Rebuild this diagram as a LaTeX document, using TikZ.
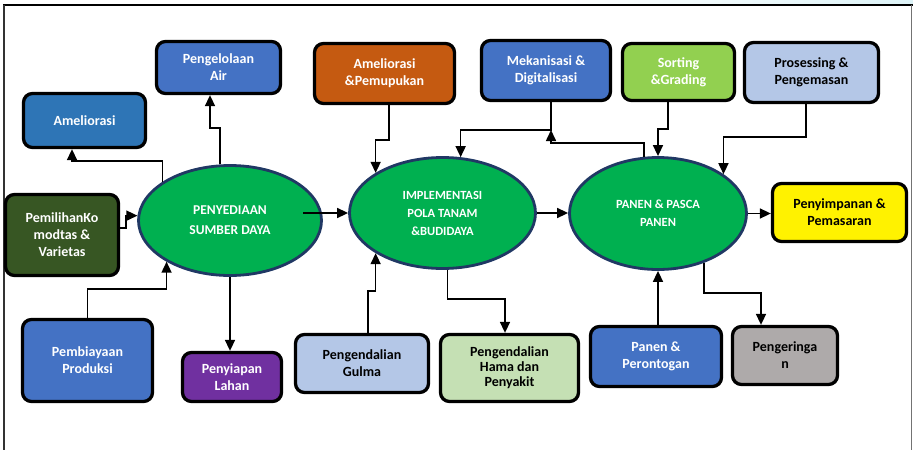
\documentclass[tikz,border=0pt]{standalone}
\usepackage{fontspec}
\setmainfont{Carlito}
\usetikzlibrary{arrows.meta,shapes.geometric}

\definecolor{stagegreen}{HTML}{00B050}
\definecolor{stageline}{HTML}{203864}
\definecolor{steelblue}{HTML}{2E75B6}
\definecolor{midblue}{HTML}{4472C4}
\definecolor{rust}{HTML}{C55A11}
\definecolor{lime}{HTML}{92D050}
\definecolor{paleblue}{HTML}{B4C7E7}
\definecolor{olive}{HTML}{375623}
\definecolor{plum}{HTML}{7030A0}
\definecolor{palegreen}{HTML}{C5E0B4}
\definecolor{stone}{HTML}{AEAAAA}
\definecolor{haze}{HTML}{DDF3F7}

\begin{document}
\begin{tikzpicture}[x=1pt,y=-1pt,
  box/.style={draw=black, line width=3.3pt, rounded corners=9pt, align=center,
    font=\fontsize{14}{17}\selectfont\bfseries, inner sep=2pt},
  stage/.style={ellipse, draw=stageline, line width=2.8pt, fill=stagegreen,
    align=center, text=white, inner sep=0pt},
  arr/.style={line width=1.6pt, -{Triangle[length=11pt,width=10pt]}},
]
\useasboundingbox (0,0) rectangle (913,450);

% page frame
\shade[left color=white, right color=haze] (560,0) rectangle (913,3.6);
\draw[line width=2pt] (3.4,4.6) -- (913,4.6);
\draw[line width=1.3pt, black!80] (4,4.6) -- (4,450);
\draw[line width=1.3pt, black!55] (911.5,4.6) -- (911.5,450);

% main stages
\node[stage, minimum width=183pt, minimum height=110pt,
  font=\fontsize{13.5}{20}\selectfont\bfseries] (e1) at (230,220.5)
  {PENYEDIAAN\\SUMBER DAYA};
\node[stage, minimum width=186pt, minimum height=111pt,
  font=\fontsize{12.5}{18}\selectfont\bfseries] (e2) at (442.5,213)
  {IMPLEMENTASI\\POLA TANAM\\\&BUDIDAYA};
\node[stage, minimum width=177pt, minimum height=112pt,
  font=\fontsize{12.5}{18}\selectfont\bfseries] (e3) at (658,213.5)
  {PANEN \& PASCA\\PANEN};

% surrounding activities
\node[box, fill=steelblue, text=white, minimum width=122pt, minimum height=54pt]
  (amel) at (84.5,120.5) {Ameliorasi};
\node[box, fill=midblue, text=white, minimum width=124pt, minimum height=52pt]
  (air) at (218.5,67.5) {Pengelolaan\\Air};
\node[box, fill=rust, text=white, minimum width=140pt, minimum height=60pt]
  (pupuk) at (384.5,73.5) {Ameliorasi\\\&Pemupukan};
\node[box, fill=midblue, text=white, minimum width=129pt, minimum height=60pt]
  (mekan) at (546,70.5) {Mekanisasi \&\\Digitalisasi};
\node[box, fill=lime, text=white, minimum width=112pt, minimum height=57pt]
  (sort) at (678.5,72) {Sorting\\\&Grading};
\node[box, fill=paleblue, text=black, minimum width=134pt, minimum height=60pt]
  (pros) at (811.5,72.5) {Prosessing \&\\Pengemasan};
\node[box, fill=yellow, text=black, minimum width=134pt, minimum height=58pt]
  (simpan) at (839.5,212.5) {Penyimpanan \&\\Pemasaran};
\node[box, fill=olive, text=white, minimum width=113pt, minimum height=81pt]
  (pilih) at (62,235) {PemilihanKo\\modtas \&\\Varietas};
\node[box, fill=midblue, text=white, minimum width=130pt, minimum height=82pt]
  (biaya) at (87.5,360.5) {Pembiayaan\\Produksi};
\node[box, fill=plum, text=white, minimum width=99pt, minimum height=49pt]
  (lahan) at (232,377) {Penyiapan\\Lahan};
\node[box, fill=paleblue, text=black, minimum width=133pt, minimum height=58pt]
  (gulma) at (362,363.5) {Pengendalian\\Gulma};
\node[box, fill=palegreen, text=black, minimum width=138pt, minimum height=67pt,
  font=\fontsize{14}{15}\selectfont\bfseries]
  (hama) at (509.5,368) {Pengendalian\\Hama dan\\Penyakit};
\node[box, fill=midblue, text=white, minimum width=131pt, minimum height=60pt]
  (rontog) at (656,356.5) {Panen \&\\Perontogan};
\node[box, fill=stone, text=black, minimum width=105pt, minimum height=58pt]
  (kering) at (785,355.5) {Pengeringa\\n};

% junction on the mechanisation line
\coordinate (mkjoin) at (551,130);

% connectors around the first stage
\draw[arr] (e1.150) |- (72,161) -- (amel.south -| 72,0);
\draw[arr] (e1.100) |- (210,128) -- (air.south -| 210,0);
\draw[arr] (pilih.east |- 0,228) -| (e1.177 -| 126,0) -- (e1.177);
\draw[arr] (biaya.north) |- (e1.213 |- 0,289) -- (e1.213);
\draw[arr] (e1.south) -- (lahan.north -| e1.south);
\draw[arr] (e2.west -| 303,0) -- (e2.west);

% connectors around the second stage
\draw[arr] (pupuk.south -| 389,0) |- (e2.149 |- 0,140) -- (e2.149);
\draw[arr] (gulma.north -| 368,0) |- (e2.211 |- 0,291) -- (e2.211);
\draw[arr] (e2.275) -- (e2.275 |- 0,299) -| (hama.north -| 505,0);
\draw[arr] (mekan.south -| mkjoin) |- (e2.72 |- mkjoin) -- (e2.72);
\draw[arr] (e2.east) -- (e3.west |- e2.east);

% connectors around the third stage
\draw[arr] (e3.104) |- (mkjoin |- 0,143) -- (mkjoin);
\draw[arr] (sort.south -| 668,0) |- (e3.north |- 0,129) -- (e3.north);
\draw[arr] (pros.south -| 806,0) |- (e3.31 |- 0,137) -- (e3.31);
\draw[arr] (rontog.north -| e3.south) -- (e3.south);
\draw[arr] (e3.313) -- (e3.313 |- 0,293) -| (kering.north -| 761,0);
\draw[arr] (e3.east) -- (simpan.west |- e3.east);
\end{tikzpicture}
\end{document}
